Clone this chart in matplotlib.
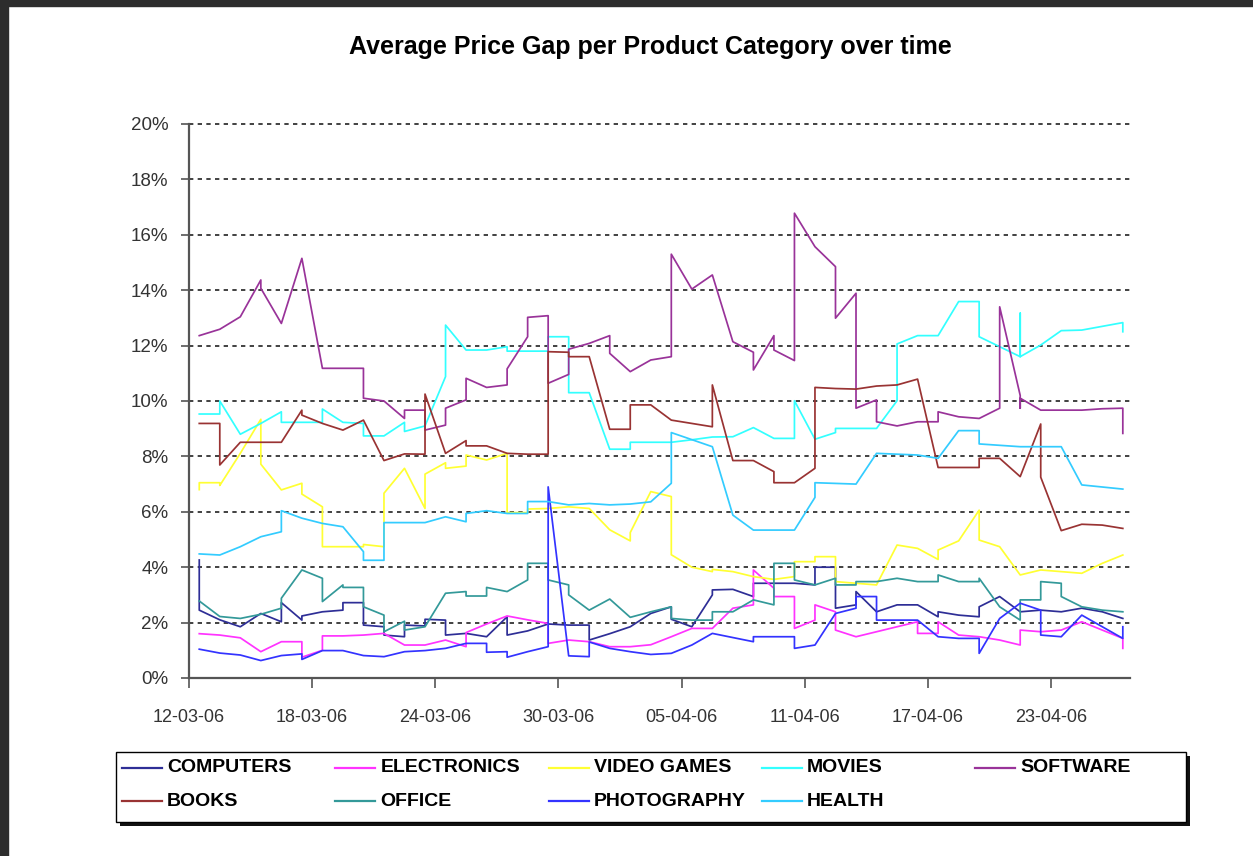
import matplotlib
matplotlib.use("Agg")
import matplotlib.pyplot as plt
import matplotlib.dates as mdates
from matplotlib.lines import Line2D
from matplotlib.patches import Rectangle
from matplotlib.ticker import MultipleLocator, FuncFormatter
from datetime import datetime, timedelta

start = datetime(2006, 3, 12)

# (day since 12-03-06, average price gap in %)
# two readings on the same day give the vertical steps of the original
computers = [(0, 4.26), (0, 2.45), (1, 2.1), (2, 1.85), (3, 2.33), (4, 2.03), (4, 2.72), (5, 2.09), (5, 2.24),
             (6, 2.39), (7, 2.45), (7, 2.72), (8, 2.72), (8, 1.91), (9, 1.85), (9, 1.55), (10, 1.49), (10, 1.91),
             (11, 1.88), (11, 2.12), (12, 2.09), (12, 1.55), (13, 1.61), (14, 1.49), (15, 2.21), (15, 1.55),
             (16, 1.7), (17, 1.95), (18, 1.91), (19, 1.91), (19, 1.37), (20, 1.6), (21, 1.85), (22, 2.33),
             (23, 2.57), (23, 2.12), (24, 1.85), (25, 3.0), (25, 3.18), (26, 3.2), (27, 2.94), (27, 3.42),
             (28, 3.42), (29, 3.42), (30, 3.36), (30, 4.0), (31, 4.0), (31, 2.52), (32, 2.64), (32, 3.12),
             (33, 2.39), (34, 2.64), (35, 2.64), (36, 2.21), (36, 2.39), (37, 2.27), (38, 2.21), (38, 2.57),
             (39, 2.94), (40, 2.39), (41, 2.45), (42, 2.39), (43, 2.52), (44, 2.39), (45, 2.15)]

electronics = [(0, 1.6), (1, 1.55), (2, 1.45), (3, 0.95), (4, 1.31), (5, 1.31), (5, 0.75), (6, 1.0), (6, 1.52),
               (7, 1.52), (8, 1.55), (9, 1.61), (10, 1.19), (11, 1.19), (12, 1.37), (13, 1.13), (13, 1.64),
               (14, 1.95), (15, 2.24), (16, 2.1), (17, 1.97), (17, 1.25), (18, 1.37), (19, 1.31), (20, 1.13),
               (21, 1.13), (22, 1.2), (23, 1.49), (24, 1.79), (25, 1.79), (26, 2.52), (27, 2.64), (27, 3.9),
               (28, 3.24), (28, 2.94), (29, 2.94), (29, 1.79), (30, 2.09), (30, 2.64), (31, 2.39), (31, 1.73),
               (32, 1.49), (33, 1.67), (34, 1.85), (35, 2.03), (35, 1.61), (36, 1.61), (36, 2.03), (37, 1.55),
               (38, 1.49), (39, 1.37), (40, 1.19), (40, 1.73), (41, 1.67), (42, 1.73), (43, 2.03), (44, 1.73),
               (45, 1.43), (45, 1.07)]

video_games = [(0, 6.8), (0, 7.05), (1, 7.05), (1, 6.95), (2, 8.11), (3, 9.34), (3, 7.72), (4, 6.79), (5, 7.03),
               (5, 6.64), (6, 6.18), (6, 4.74), (7, 4.74), (8, 4.74), (8, 4.82), (9, 4.74), (9, 6.67), (10, 7.57),
               (11, 6.12), (11, 7.36), (12, 7.77), (12, 7.57), (13, 7.65), (13, 8.05), (14, 7.87), (15, 8.11),
               (15, 5.97), (16, 5.97), (16, 6.1), (17, 6.12), (18, 6.18), (19, 6.12), (20, 5.35), (21, 4.95),
               (21, 5.25), (22, 6.73), (23, 6.55), (23, 4.45), (24, 4.0), (25, 3.84), (25, 3.92), (26, 3.84),
               (27, 3.66), (28, 3.56), (29, 3.66), (29, 4.2), (30, 4.2), (30, 4.38), (31, 4.38), (31, 3.48),
               (32, 3.42), (33, 3.36), (34, 4.8), (35, 4.68), (36, 4.28), (36, 4.62), (37, 4.95), (38, 6.06),
               (38, 4.98), (39, 4.74), (40, 3.72), (41, 3.9), (42, 3.84), (43, 3.78), (44, 4.14), (45, 4.44)]

movies = [(0, 9.53), (1, 9.53), (1, 10.0), (2, 8.8), (3, 9.19), (4, 9.61), (4, 9.23), (5, 9.23), (6, 9.23),
          (6, 9.71), (7, 9.23), (8, 9.19), (8, 8.74), (9, 8.74), (10, 9.23), (10, 8.9), (11, 9.1), (12, 10.88),
          (12, 12.74), (13, 11.84), (14, 11.84), (15, 11.96), (15, 11.8), (16, 11.8), (17, 11.8), (17, 12.32),
          (18, 12.32), (18, 10.3), (19, 10.3), (20, 8.26), (21, 8.26), (21, 8.51), (22, 8.51), (23, 8.51),
          (24, 8.6), (25, 8.7), (26, 8.71), (27, 9.04), (28, 8.65), (29, 8.65), (29, 10.01), (30, 8.62),
          (31, 8.86), (31, 9.01), (32, 9.01), (33, 9.01), (34, 10.01), (34, 12.06), (35, 12.36), (36, 12.36),
          (37, 13.59), (38, 13.59), (38, 12.32), (40, 11.6), (40, 13.17), (40, 11.6), (41, 12.02), (42, 12.54),
          (43, 12.56), (45, 12.83), (45, 12.5)]

software = [(0, 12.36), (1, 12.59), (2, 13.04), (3, 14.37), (3, 14.07), (4, 12.8), (5, 15.15), (6, 11.18),
            (7, 11.18), (8, 11.18), (8, 10.1), (9, 10.0), (10, 9.37), (10, 9.67), (11, 9.67), (11, 8.95),
            (12, 9.13), (12, 9.74), (13, 10.04), (13, 10.82), (14, 10.49), (15, 10.58), (15, 11.16), (16, 12.32),
            (16, 13.02), (17, 13.08), (17, 10.64), (18, 10.96), (18, 11.87), (19, 12.08), (20, 12.36),
            (20, 11.72), (21, 11.06), (22, 11.48), (23, 11.6), (23, 15.3), (24, 14.04), (25, 14.55), (26, 12.14),
            (27, 11.76), (27, 11.12), (28, 12.36), (28, 11.84), (29, 11.46), (29, 16.78), (30, 15.57),
            (31, 14.85), (31, 12.99), (32, 13.89), (32, 9.74), (33, 10.04), (33, 9.25), (34, 9.1), (35, 9.25),
            (36, 9.25), (36, 9.61), (37, 9.43), (38, 9.37), (39, 9.74), (39, 13.4), (40, 10.2), (40, 9.74),
            (40, 10.1), (41, 9.67), (42, 9.67), (43, 9.67), (44, 9.72), (45, 9.74), (45, 8.83)]

books = [(0, 9.19), (1, 9.19), (1, 7.69), (2, 8.51), (3, 8.51), (4, 8.51), (5, 9.67), (5, 9.49), (6, 9.19),
         (7, 8.95), (8, 9.31), (9, 7.85), (10, 8.09), (11, 8.08), (11, 10.25), (12, 8.11), (13, 8.57), (13, 8.38),
         (14, 8.38), (15, 8.11), (16, 8.08), (17, 8.08), (17, 11.78), (18, 11.76), (18, 11.6), (19, 11.6),
         (20, 8.98), (21, 8.98), (21, 9.86), (22, 9.86), (23, 9.31), (24, 9.19), (25, 9.07), (25, 10.58),
         (26, 7.85), (27, 7.85), (28, 7.45), (28, 7.05), (29, 7.05), (30, 7.57), (30, 10.49), (31, 10.45),
         (32, 10.43), (33, 10.54), (34, 10.58), (35, 10.79), (36, 7.6), (37, 7.6), (38, 7.6), (38, 7.93),
         (39, 7.93), (40, 7.27), (41, 9.17), (41, 7.25), (42, 5.32), (43, 5.55), (44, 5.52), (45, 5.4)]

office = [(0, 2.78), (1, 2.22), (2, 2.15), (3, 2.3), (4, 2.52), (4, 2.88), (5, 3.9), (6, 3.6), (6, 2.76),
          (7, 3.36), (7, 3.27), (8, 3.27), (8, 2.57), (9, 2.27), (9, 1.67), (10, 2.05), (10, 1.73), (11, 1.85),
          (12, 3.06), (13, 3.12), (13, 2.96), (14, 2.96), (14, 3.27), (15, 3.12), (16, 3.54), (16, 4.14),
          (17, 4.14), (17, 3.54), (18, 3.36), (18, 3.0), (19, 2.45), (20, 2.85), (21, 2.19), (22, 2.39),
          (23, 2.57), (23, 2.15), (24, 2.09), (25, 2.09), (25, 2.39), (26, 2.39), (27, 2.82), (28, 2.64),
          (28, 4.14), (29, 4.14), (29, 3.54), (30, 3.36), (31, 3.6), (31, 3.36), (32, 3.36), (32, 3.48),
          (33, 3.48), (34, 3.6), (35, 3.48), (36, 3.48), (36, 3.72), (37, 3.48), (38, 3.48), (38, 3.6),
          (39, 2.57), (40, 2.09), (40, 2.82), (41, 2.82), (41, 3.48), (42, 3.42), (42, 2.94), (43, 2.57),
          (44, 2.45), (45, 2.39)]

photography = [(0, 1.04), (1, 0.9), (2, 0.83), (3, 0.63), (4, 0.81), (5, 0.87), (5, 0.67), (6, 0.99), (7, 0.99),
               (8, 0.81), (9, 0.77), (10, 0.95), (11, 0.99), (12, 1.07), (13, 1.25), (14, 1.25), (14, 0.93),
               (15, 0.95), (15, 0.75), (16, 0.95), (17, 1.13), (17, 6.9), (18, 0.8), (19, 0.77), (19, 1.3),
               (20, 1.07), (21, 0.95), (22, 0.85), (23, 0.89), (24, 1.19), (25, 1.61), (27, 1.31), (27, 1.49),
               (28, 1.49), (29, 1.49), (29, 1.07), (30, 1.19), (31, 2.33), (32, 2.52), (32, 2.94), (33, 2.94),
               (33, 2.09), (34, 2.09), (35, 2.09), (36, 1.49), (37, 1.43), (38, 1.43), (38, 0.89), (39, 2.15),
               (40, 2.7), (41, 2.45), (41, 1.55), (42, 1.49), (43, 2.27), (44, 1.85), (45, 1.43), (45, 1.85)]

health = [(0, 4.48), (1, 4.44), (2, 4.74), (3, 5.1), (4, 5.28), (4, 6.04), (5, 5.77), (6, 5.58), (7, 5.46),
          (8, 4.56), (8, 4.25), (9, 4.25), (9, 5.61), (10, 5.61), (11, 5.61), (12, 5.82), (13, 5.64), (13, 5.94),
          (14, 6.04), (15, 5.94), (16, 5.94), (16, 6.37), (17, 6.37), (18, 6.25), (19, 6.3), (20, 6.25),
          (21, 6.28), (22, 6.36), (23, 7.03), (23, 8.86), (25, 8.35), (26, 5.88), (27, 5.34), (29, 5.34),
          (30, 6.52), (30, 7.05), (32, 7.0), (33, 8.11), (35, 8.05), (36, 7.93), (37, 8.93), (38, 8.93),
          (38, 8.45), (40, 8.35), (42, 8.35), (43, 6.97), (45, 6.82)]

names = ["COMPUTERS", "ELECTRONICS", "VIDEO GAMES", "MOVIES", "SOFTWARE",
         "BOOKS", "OFFICE", "PHOTOGRAPHY", "HEALTH"]
series = [computers, electronics, video_games, movies, software, books, office, photography, health]
colors = ["#2e2e96", "#ff33ff", "#ffff33", "#33ffff", "#993399",
          "#993333", "#339999", "#3333ff", "#33ccff"]

W, H = 1253, 856
fig = plt.figure(figsize=(W / 100, H / 100), dpi=100)
fig.patch.set_facecolor("white")

# dark screenshot frame
fig.patches.append(Rectangle((0, 1 - 6 / H), 1, 6 / H, transform=fig.transFigure, color="#2d2d2d", zorder=0))
fig.patches.append(Rectangle((0, 0), 8 / W, 1, transform=fig.transFigure, color="#2d2d2d", zorder=0))

ax = fig.add_axes([189 / W, 1 - 678 / H, (1130 - 189) / W, (678 - 124) / H])

for pts, name, col in zip(series, names, colors):
    xs = [start + timedelta(days=d + 0.5) for d, v in pts]
    ys = [v for d, v in pts]
    ax.plot(xs, ys, color=col, lw=1.25, label=name)

ax.set_xlim(start, start + timedelta(days=45.85))
ax.set_ylim(0, 20)
ax.yaxis.set_major_locator(MultipleLocator(2))
ax.yaxis.set_major_formatter(FuncFormatter(lambda v, p: f"{v:.0f}%"))
ax.set_xticks([start + timedelta(days=6 * k) for k in range(8)])
ax.xaxis.set_major_formatter(mdates.DateFormatter("%d-%m-%y"))

ax.grid(axis="y", color="#333333", linestyle=(0, (2.4, 2.4)), lw=1.3)
ax.set_axisbelow(True)
for gl in ax.get_ygridlines():
    gl.set_clip_on(False)
for s in ["top", "right"]:
    ax.spines[s].set_visible(False)
for s in ["left", "bottom"]:
    ax.spines[s].set_color("#555555")
    ax.spines[s].set_linewidth(1.6)

ax.tick_params(axis="y", direction="out", length=6, width=1.2, color="#555555",
               labelsize=13.5, labelcolor="#333333", pad=9)
ax.tick_params(axis="x", direction="out", length=7, width=1.2, color="#555555",
               labelsize=13, labelcolor="#333333", pad=15)
for lab in ax.get_xticklabels() + ax.get_yticklabels():
    lab.set_fontfamily("Liberation Sans")

fig.text(650 / W, 1 - 47 / H, "Average Price Gap per Product Category over time",
         ha="center", va="center", fontsize=18, fontweight="bold", family="Liberation Sans")

# legend box like the Excel one: even columns, dark drop shadow
lx0, ly0, lx1, ly1 = 116, 752, 1186, 822
fig.patches.append(Rectangle((lx0 / W + 4 / W, 1 - (ly1 + 4) / H), (lx1 - lx0) / W, (ly1 - ly0) / H,
                             transform=fig.transFigure, facecolor="#111111", edgecolor="none", zorder=2))
fig.patches.append(Rectangle((lx0 / W, 1 - ly1 / H), (lx1 - lx0) / W, (ly1 - ly0) / H,
                             transform=fig.transFigure, facecolor="white", edgecolor="black", lw=1.0, zorder=3))
for i, (name, col) in enumerate(zip(names, colors)):
    cx = 122 + (i % 5) * 213.3
    cy = 768 + (i // 5) * 33
    fig.add_artist(Line2D([cx / W, (cx + 40) / W], [1 - cy / H, 1 - cy / H], transform=fig.transFigure,
                          color=col, lw=1.6, zorder=4))
    fig.text((cx + 45) / W, 1 - cy / H, name, ha="left", va="center", fontsize=14, fontweight="bold",
             family="Liberation Sans", zorder=4)

fig.savefig("out.png", dpi=100, facecolor=fig.get_facecolor())
